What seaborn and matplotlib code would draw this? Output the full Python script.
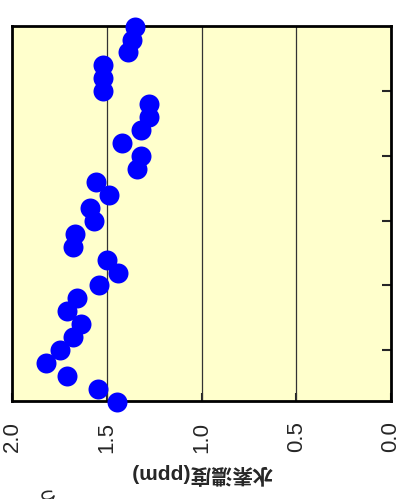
import seaborn as sns
import matplotlib.pyplot as plt
import pandas as pd

plt.switch_backend('agg')

# depth index (bottom -> top in the picture) and hydrogen concentration (ppm)
depth = [1, 2, 3, 4, 5, 6, 7, 8, 9, 10,
         11, 12, 13, 14, 15, 16, 17, 18, 19, 20,
         21, 22, 23, 24, 25, 26, 27, 28, 29, 30]
h2_ppm = [1.45, 1.55, 1.71, 1.82, 1.75, 1.68, 1.64, 1.71, 1.66, 1.54,
          1.44, 1.50, 1.68, 1.67, 1.57, 1.59, 1.49, 1.56, 1.34, 1.32,
          1.42, 1.32, 1.28, 1.28, 1.52, 1.52, 1.52, 1.39, 1.37, 1.35]
x_ticks = [2.0, 1.5, 1.0, 0.5, 0.0]
x_labels = ['2.0', '1.5', '1.0', '0.5', '0.0']
y_ticks = [5, 10, 15, 20, 25]

df = pd.DataFrame({'h2': h2_ppm, 'depth': depth})

sns.set_style('white')
fig = plt.figure(figsize=(4.01, 4.99), dpi=100)
ax = fig.add_axes([0.031, 0.197, 0.944, 0.751])
ax.set_facecolor('#ffffcc')

sns.scatterplot(data=df, x='h2', y='depth', ax=ax, s=207, color='#0000ff',
                linewidth=0, zorder=3)
for c in ax.collections:
    c.set_clip_on(False)

ax.set_xlim(2.0, 0.0)
ax.set_ylim(1.1, 30.05)

for v in [1.5, 1.0, 0.5]:
    ax.axvline(v, color='#333333', lw=0.9, zorder=1)

ax.set_xticks(x_ticks)
ax.set_xticklabels(x_labels, rotation=90, fontsize=16, family='Liberation Sans')
ax.tick_params(axis='x', direction='in', length=6, width=1.5, pad=15,
               bottom=True, top=False)
ax.set_yticks(y_ticks)
ax.set_yticklabels([])
ax.tick_params(axis='y', direction='in', length=6.5, width=1.5,
               left=False, right=True, labelleft=False)
ax.set_xlabel('')
ax.set_ylabel('')

for s in ax.spines.values():
    s.set_linewidth(2)
    s.set_color('black')
    s.set_visible(True)

fig.text(0.502, 0.05, '水素濃度(ppm)', rotation=180, ha='center', va='center',
         fontsize=15, fontweight='bold',
         family=['Liberation Sans', 'Noto Sans CJK JP'])
fig.text(0.11, 0.03, 'ち', rotation=180, ha='center', va='top', fontsize=15,
         family=['Noto Sans CJK JP'])

plt.savefig('out.png', dpi=100)
